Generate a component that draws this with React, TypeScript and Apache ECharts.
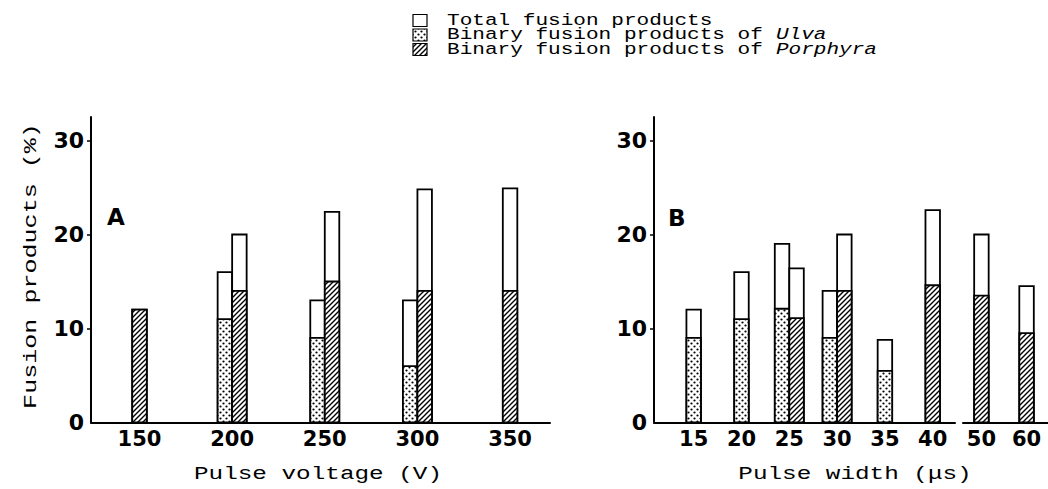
import React, { useEffect, useRef } from 'react';
import * as echarts from 'echarts';

// ---------- data ----------
const voltageCategories = ['150', '200', '250', '300', '350'];
const voltageUlvaTotal = [null, 16, 13, 13, null];
const voltageUlvaBinary = [null, 11, 9, 6, null];
const voltagePorphyraTotal = [12, 20, 22.4, 24.8, 24.9];
const voltagePorphyraBinary = [12, 14, 15, 14, 14];

const widthCategories = ['15', '20', '25', '30', '35', '40', '50', '60'];
const widthUlvaTotal = [12, 16, 19, 14, 8.8, null, null, null];
const widthUlvaBinary = [9, 11, 12.1, 9, 5.5, null, null, null];
const widthPorphyraTotal = [null, null, 16.4, 20, null, 22.6, 20, 14.5];
const widthPorphyraBinary = [null, null, 11.1, 14, null, 14.6, 13.5, 9.5];
const widthBreakAt = 6; // the x axis is broken before "50"

const yTickValues = [0, 10, 20, 30];
const legendNames = ['Total fusion products', 'Binary fusion products of ', 'Binary fusion products of '];
const legendSpecies = ['', 'Ulva', 'Porphyra'];
const panelLetters = ['A', 'B'];
const xTitles = ['Pulse voltage (V)', 'Pulse width (\u03bcs)'];
const yTitle = 'Fusion products (%)';

// ---------- helpers ----------
type Row = (number | null)[];
function buildItems(tU: Row, bU: Row, tP: Row, bP: Row, from: number, to: number) {
  const items: number[][] = [];
  for (let i = from; i < to; i++) {
    const hasU = tU[i] != null;
    const hasP = tP[i] != null;
    if (hasU) items.push([i - from, tU[i] as number, bU[i] as number, 0, hasP ? -1 : 0]);
    if (hasP) items.push([i - from, tP[i] as number, bP[i] as number, 1, hasU ? 1 : 0]);
  }
  return items;
}

function makeHatch() {
  const s = 5;
  const c = document.createElement('canvas');
  c.width = s; c.height = s;
  const ctx = c.getContext('2d')!;
  ctx.fillStyle = '#fff'; ctx.fillRect(0, 0, s, s);
  ctx.strokeStyle = '#000'; ctx.lineWidth = 1.4;
  ctx.beginPath();
  ctx.moveTo(-1, s + 1); ctx.lineTo(s + 1, -1);
  ctx.moveTo(-1, 1); ctx.lineTo(1, -1);
  ctx.moveTo(s - 1, s + 1); ctx.lineTo(s + 1, s - 1);
  ctx.stroke();
  return c;
}
function makeDots() {
  const s = 6;
  const c = document.createElement('canvas');
  c.width = s; c.height = s;
  const ctx = c.getContext('2d')!;
  ctx.fillStyle = '#fff'; ctx.fillRect(0, 0, s, s);
  ctx.fillStyle = '#000';
  [[1.5, 1.5], [4.5, 4.5]].forEach(([x, y]) => {
    ctx.beginPath(); ctx.arc(x, y, 1.1, 0, Math.PI * 2); ctx.fill();
  });
  return c;
}

const MONO = '"Liberation Mono", "Courier New", monospace';
const BOLD = '"DejaVu Sans", "Liberation Sans", sans-serif';
const BAR_W = 14.5;
const Y_MAX = 32.5;

export default function App() {
  const ref = useRef<HTMLDivElement>(null);
  useEffect(() => {
    if (!ref.current) return;
    const chart = echarts.init(ref.current, undefined, { renderer: 'svg' });
    const hatch = { image: makeHatch(), repeat: 'repeat' };
    const dots = { image: makeDots(), repeat: 'repeat' };

    const renderItem = (params: any, api: any) => {
      const cat = api.value(0);
      const total = api.value(1);
      const part = api.value(2);
      const kind = api.value(3);
      const slot = api.value(4);
      const base = api.coord([cat, 0]);
      const t = api.coord([cat, total]);
      const p = api.coord([cat, part]);
      const x = base[0] + (slot * BAR_W) / 2 - BAR_W / 2;
      return {
        type: 'group',
        children: [
          { type: 'rect', shape: { x, y: t[1], width: BAR_W, height: base[1] - t[1] }, style: { fill: '#fff', stroke: '#000', lineWidth: 1.8 } },
          { type: 'rect', shape: { x, y: p[1], width: BAR_W, height: base[1] - p[1] }, style: { fill: kind === 0 ? dots : hatch, stroke: '#000', lineWidth: 1.8 } },
        ],
      };
    };

    const top = 117;
    const bottomY = 422.5;
    const gridH = bottomY - top;
    const grids = [
      { left: 91, top, width: 459, height: gridH },
      { left: 654, top, width: 301, height: gridH },
      { left: 963, top, width: 90, height: gridH },
    ];

    const xLabel = (cats: string[], offset: number) => ({
      customValues: cats.map((_, i) => i),
      formatter: (v: number) => cats[Math.round(v) + offset] ?? '',
      color: '#000', fontFamily: BOLD, fontWeight: 'bold', fontSize: 21, margin: 6,
    });
    const xBase = (min: number, max: number) => ({
      type: 'value', min, max,
      axisLine: { show: true, onZero: false, lineStyle: { color: '#000', width: 2 } },
      axisTick: { show: false }, splitLine: { show: false },
    });
    const xAxes = [
      { ...xBase(-0.5235, 4.431), gridIndex: 0, axisLabel: xLabel(voltageCategories, 0) },
      { ...xBase(-0.83, 5.466), gridIndex: 1, axisLabel: xLabel(widthCategories, 0) },
      { ...xBase(-0.408, 1.475), gridIndex: 2, axisLabel: xLabel(widthCategories, widthBreakAt) },
    ];
    const yBase = (gi: number, show: boolean) => ({
      type: 'value', gridIndex: gi, min: 0, max: Y_MAX, interval: 10, show,
      axisLine: { show, onZero: false, lineStyle: { color: '#000', width: 2 } },
      axisTick: { show, length: 4, lineStyle: { color: '#000', width: 1.5 }, customValues: yTickValues.filter(v => v > 0) },
      axisLabel: { show, customValues: yTickValues, color: '#000', fontFamily: BOLD, fontWeight: 'bold', fontSize: 22, margin: 7 },
      splitLine: { show: false },
    });
    const yAxes = [yBase(0, true), yBase(1, true), yBase(2, false)];

    const series = [
      { data: buildItems(voltageUlvaTotal, voltageUlvaBinary, voltagePorphyraTotal, voltagePorphyraBinary, 0, voltageCategories.length), xAxisIndex: 0, yAxisIndex: 0 },
      { data: buildItems(widthUlvaTotal, widthUlvaBinary, widthPorphyraTotal, widthPorphyraBinary, 0, widthBreakAt), xAxisIndex: 1, yAxisIndex: 1 },
      { data: buildItems(widthUlvaTotal, widthUlvaBinary, widthPorphyraTotal, widthPorphyraBinary, widthBreakAt, widthCategories.length), xAxisIndex: 2, yAxisIndex: 2 },
    ].map(s => ({ type: 'custom', renderItem, encode: { x: 0, y: 1 }, clip: false, ...s }));

    const textStyle = (text: string, size: number, extra: any = {}) => ({
      text, fontFamily: MONO, fontSize: size, fill: '#000', ...extra,
    });

    const legendRows = [20.5, 35, 49.5];
    const legendFills = ['#fff', dots, hatch];
    const legendEls: any[] = [];
    legendRows.forEach((cy, i) => {
      legendEls.push({ type: 'rect', shape: { x: 413, y: cy - 6, width: 14, height: 12 }, style: { fill: legendFills[i], stroke: '#000', lineWidth: 1.2 } });
      legendEls.push({
        type: 'text', x: 447, y: cy, scaleX: 1.24,
        style: textStyle(legendNames[i] + (legendSpecies[i] ? `{i|${legendSpecies[i]}}` : ''), 17, {
          verticalAlign: 'middle', textVerticalAlign: 'middle', align: 'left', textAlign: 'left',
          rich: { i: { fontFamily: MONO, fontSize: 17, fontStyle: 'italic', fill: '#000' } },
        }),
      });
    });

    const graphic = [
      ...legendEls,
      { type: 'text', x: 107, y: 217, style: { text: panelLetters[0], fontFamily: BOLD, fontWeight: 'bold', fontSize: 23, fill: '#000', verticalAlign: 'middle', textVerticalAlign: 'middle' } },
      { type: 'text', x: 668, y: 218, style: { text: panelLetters[1], fontFamily: BOLD, fontWeight: 'bold', fontSize: 23, fill: '#000', verticalAlign: 'middle', textVerticalAlign: 'middle' } },
      { type: 'text', x: 318, y: 474, scaleX: 1.28, style: textStyle(xTitles[0], 19, { align: 'center', textAlign: 'center', verticalAlign: 'middle', textVerticalAlign: 'middle' }) },
      { type: 'text', x: 855, y: 474, scaleX: 1.28, style: textStyle(xTitles[1], 19, { align: 'center', textAlign: 'center', verticalAlign: 'middle', textVerticalAlign: 'middle' }) },
      { type: 'text', x: 31, y: 266, rotation: Math.PI / 2, scaleX: 1.32, style: textStyle(yTitle, 19, { align: 'center', textAlign: 'center', verticalAlign: 'middle', textVerticalAlign: 'middle' }) },
    ];

    chart.setOption({
      animation: false,
      backgroundColor: '#fff',
      grid: grids,
      xAxis: xAxes,
      yAxis: yAxes,
      series,
      graphic,
    } as any);
    return () => chart.dispose();
  }, []);
  return <div ref={ref} style={{ position: 'absolute', left: 0, top: 0, width: 1048, height: 489, background: '#fff' }} />;
}
